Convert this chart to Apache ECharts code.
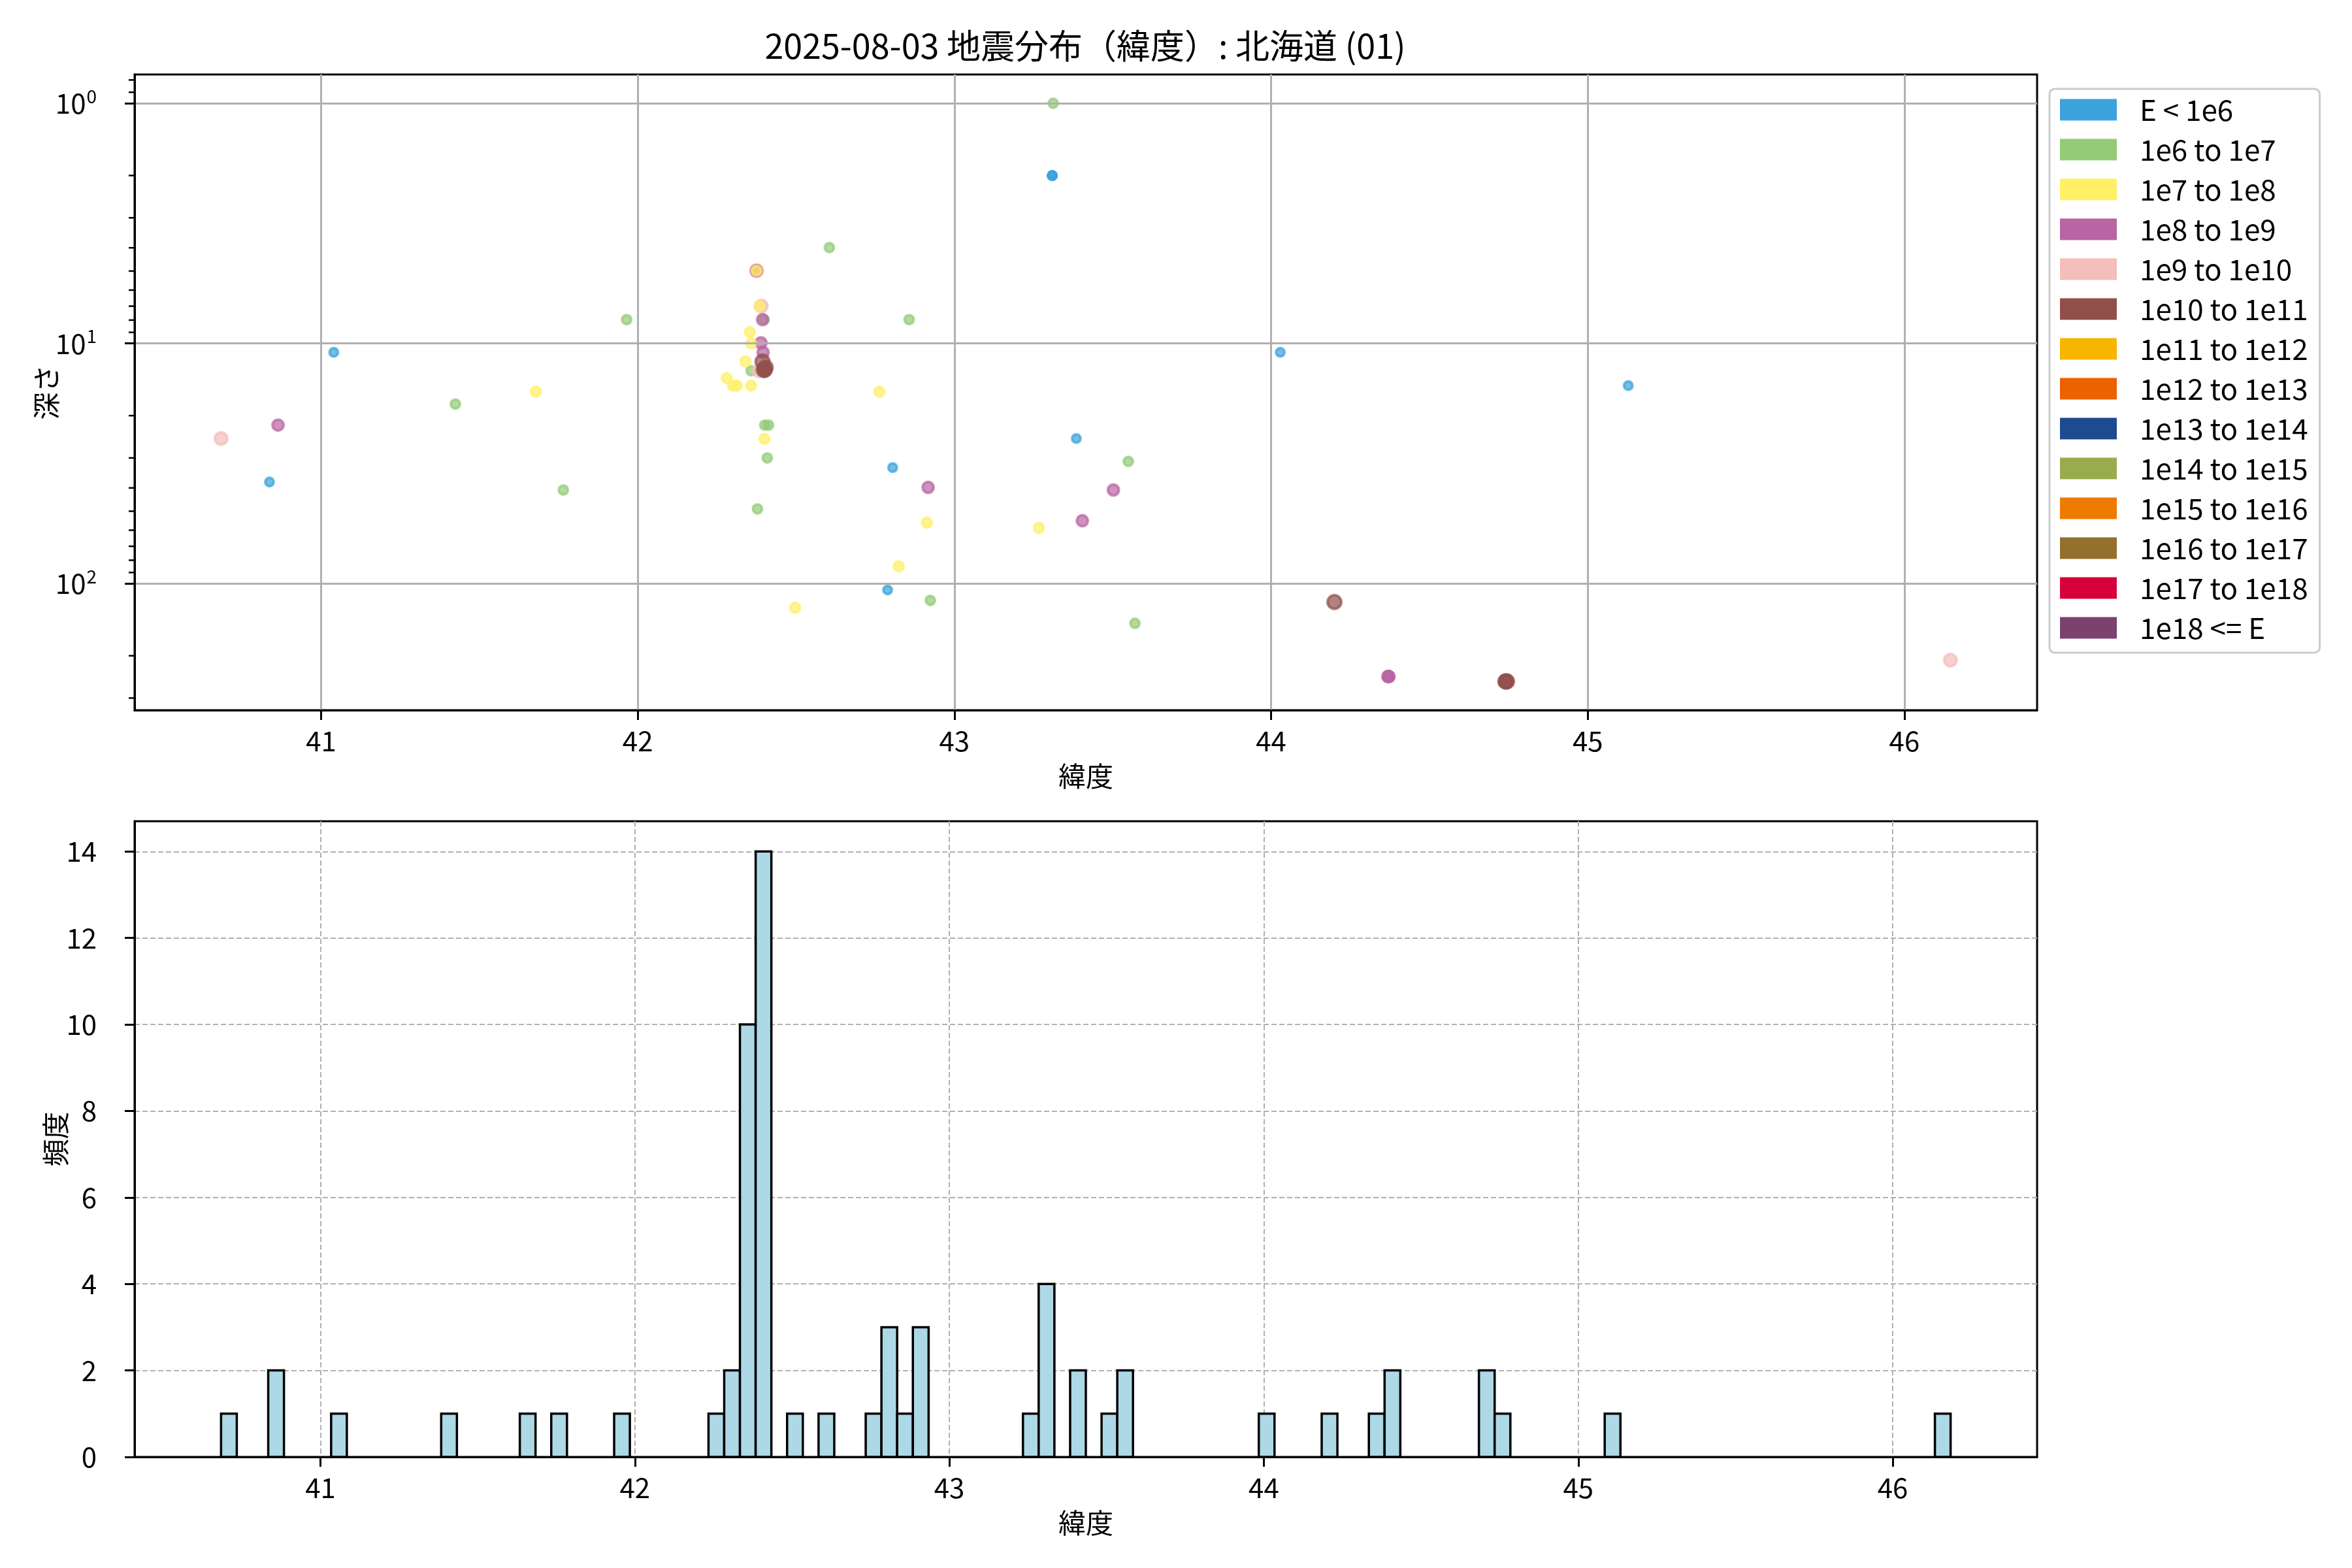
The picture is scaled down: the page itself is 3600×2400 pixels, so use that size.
<!DOCTYPE html>
<html>
<head>
<meta charset="utf-8">
<script src="https://cdn.jsdelivr.net/npm/echarts@6/dist/echarts.min.js"></script>
<style>html,body{margin:0;padding:0;background:#fff}#c{width:3600px;height:2400px}</style>
</head>
<body>
<div id="c"></div>
<script>
// ---------- DATA ----------
const titleText = '2025-08-03 地震分布（緯度）: 北海道 (01)';
const classNames = ['E < 1e6','1e6 to 1e7','1e7 to 1e8','1e8 to 1e9','1e9 to 1e10','1e10 to 1e11','1e11 to 1e12','1e12 to 1e13','1e13 to 1e14','1e14 to 1e15','1e15 to 1e16','1e16 to 1e17','1e17 to 1e18','1e18 <= E'];

// latitude / depth per energy class
const latE6 = [40.837, 41.040, 43.309, 43.309, 43.309, 44.029, 43.385, 42.805, 42.789, 45.128];
const depthE6 = [37.8, 10.9, 2.0, 2.0, 2.0, 10.9, 24.9, 32.9, 106.4, 15.0];
const latE7 = [41.424, 41.765, 41.965, 43.312, 42.605, 42.857, 43.549, 42.924, 43.570, 42.399, 42.358, 42.401, 42.413, 42.409, 42.378];
const depthE7 = [17.9, 40.8, 7.96, 1.0, 3.99, 7.96, 31.0, 117.6, 146.5, 7.97, 13.0, 21.9, 21.9, 30.0, 48.9];
const latE8 = [41.678, 42.763, 42.913, 43.267, 42.824, 42.497, 42.375, 42.384, 42.354, 42.358, 42.340, 42.281, 42.301, 42.313, 42.358, 42.400];
const depthE8 = [15.9, 15.9, 55.7, 58.7, 84.8, 126.1, 4.98, 6.99, 8.98, 10.0, 11.9, 13.95, 15.0, 15.0, 15.0, 25.0];
const latE9 = [40.864, 42.917, 43.502, 43.404, 44.369, 44.371, 44.372, 42.375, 42.394, 42.389, 42.396];
const depthE9 = [21.9, 39.8, 40.8, 54.8, 244, 244, 244, 4.98, 7.97, 9.95, 10.9];
const latE10 = [40.684, 46.145, 42.390, 42.383, 42.375];
const depthE10 = [24.9, 208.6, 6.99, 13.0, 4.98];
const latE11 = [44.200, 44.740, 44.742, 44.745, 42.394, 42.398, 42.401, 42.404];
const depthE11 = [119.5, 255.8, 255.8, 255.8, 11.9, 12.9, 12.9, 12.6];
const classLats = [latE6, latE7, latE8, latE9, latE10, latE11, [], [], [], [], [], [], [], []];
const classDepths = [depthE6, depthE7, depthE8, depthE9, depthE10, depthE11, [], [], [], [], [], [], [], []];

// histogram (non-empty bins)
const histBinWidth = 0.05;
const histBinLeft = [40.684, 40.834, 41.034, 41.384, 41.634, 41.734, 41.934, 42.234, 42.284, 42.334, 42.384, 42.484, 42.584, 42.734, 42.784, 42.834, 42.884, 43.234, 43.284, 43.384, 43.484, 43.534, 43.984, 44.184, 44.334, 44.384, 44.684, 44.734, 45.084, 46.134];
const histCount = [1, 2, 1, 1, 1, 1, 1, 1, 2, 10, 14, 1, 1, 1, 3, 1, 3, 1, 4, 2, 1, 2, 1, 1, 1, 2, 2, 1, 1, 1];

// ticks
const latTicks = [41, 42, 43, 44, 45, 46];
const depthTicks = [1, 10, 100];
const depthMinorTicks = [0.8, 0.9, 2, 3, 4, 5, 6, 7, 8, 9, 20, 30, 40, 50, 60, 70, 80, 90, 200, 300];
const countTicks = [0, 2, 4, 6, 8, 10, 12, 14];

// ---------- STYLE ----------
const classColors = ['#3ba3dc','#93cb77','#fff066','#b964a3','#f4beba','#924f4a','#f8b500','#ec6100','#1d4b92','#9aab4e','#ef7a00','#946f2d','#d7003a','#7b416f'];
const classSymbolSize = [13, 14, 15, 17, 19, 21, 22, 22, 22, 22, 22, 22, 22, 22];
const classZ = [6, 2, 5, 4, 3, 7, 8, 8, 8, 8, 8, 8, 8, 8];
const FONT = "'Noto Sans CJK JP', 'Noto Sans', sans-serif";
function rgba(hex, a) {
  const n = parseInt(hex.slice(1), 16);
  return 'rgba(' + ((n >> 16) & 255) + ',' + ((n >> 8) & 255) + ',' + (n & 255) + ',' + a + ')';
}
const X1 = [40.411, 46.419];
const Y1 = [0.759, 337];
const X2 = [40.409, 46.459];
const Y2 = [0, 14.7];

const GL = 206, GW = 2912, GH = 973;

const scatterSeries = classNames.map((name, i) => ({
  name: name,
  type: 'scatter',
  xAxisIndex: 0, yAxisIndex: 0,
  z: classZ[i],
  symbol: 'circle',
  symbolSize: classSymbolSize[i],
  itemStyle: { color: rgba(classColors[i], 0.7), borderColor: rgba(classColors[i], 0.7), borderWidth: 4, opacity: 1 },
  emphasis: { disabled: true },
  data: classLats[i].map((v, j) => [v, classDepths[i][j]])
}));

const tickLine = { color: '#000', width: 3 };
const labelStyle = { fontSize: 42, color: '#000', fontFamily: FONT };
const nameStyle = { fontSize: 42, color: '#000', fontFamily: FONT };

const option = {
  backgroundColor: '#fff',
  animation: false,
  title: {
    text: titleText, left: 1661, top: 44, textAlign: 'center', padding: 0,
    textStyle: { fontSize: 52, fontWeight: 'normal', color: '#000', fontFamily: FONT }
  },
  legend: {
    orient: 'vertical', left: 3137, top: 136,
    data: classNames.map((n, i) => ({ name: n, itemStyle: { color: classColors[i], borderWidth: 0, opacity: 1 } })),
    icon: 'rect', itemWidth: 87, itemHeight: 33, itemGap: 17,
    textStyle: { fontSize: 44, color: '#000', fontFamily: FONT, padding: [0, 0, 0, 30] },
    backgroundColor: '#fff', borderColor: '#cccccc', borderWidth: 3, borderRadius: 8,
    padding: [10, 18, 16, 16], selectedMode: false
  },
  grid: [
    { left: GL, top: 114, width: GW, height: GH, show: true, borderColor: '#000', borderWidth: 3, backgroundColor: 'transparent', containLabel: false },
    { left: GL, top: 1257, width: GW, height: GH, show: true, borderColor: '#000', borderWidth: 3, backgroundColor: 'transparent', containLabel: false }
  ],
  xAxis: [
    {
      type: 'value', gridIndex: 0, min: X1[0], max: X1[1], z: 10,
      axisLine: { show: true, onZero: false, lineStyle: tickLine },
      axisTick: { show: true, customValues: latTicks, length: 15, lineStyle: tickLine },
      axisLabel: { customValues: latTicks, margin: 26, ...labelStyle },
      splitLine: { show: true, lineStyle: { color: '#b0b0b0', width: 3 } },
      name: '緯度', nameLocation: 'middle', nameGap: 80, nameMoveOverlap: false, nameTextStyle: nameStyle
    },
    {
      type: 'value', gridIndex: 1, min: X2[0], max: X2[1],
      axisLine: { show: true, onZero: false, lineStyle: tickLine },
      axisTick: { show: true, customValues: latTicks, length: 15, lineStyle: tickLine },
      axisLabel: { customValues: latTicks, margin: 26, ...labelStyle },
      splitLine: { show: true, lineStyle: { color: '#b0b0b0', width: 2, type: [8, 4] } },
      name: '緯度', nameLocation: 'middle', nameGap: 80, nameMoveOverlap: false, nameTextStyle: nameStyle
    }
  ],
  yAxis: [
    {
      type: 'log', logBase: 10, gridIndex: 0, min: Y1[0], max: Y1[1], inverse: true, z: 10,
      axisLine: { show: true, onZero: false, lineStyle: tickLine },
      axisTick: { show: true, customValues: depthTicks, length: 15, lineStyle: tickLine },
      axisLabel: {
        customValues: depthTicks, margin: 58,
        formatter: v => '{b|10}{s|' + Math.round(Math.log10(v)) + '}',
        rich: {
          b: { fontSize: 42, color: '#000', fontFamily: FONT },
          s: { fontSize: 28, color: '#000', fontFamily: FONT, padding: [0, 0, 22, 1] }
        }
      },
      splitLine: { show: true, lineStyle: { color: '#b0b0b0', width: 3 } },
      name: '深さ', nameLocation: 'middle', nameGap: 114, nameMoveOverlap: false, nameTextStyle: nameStyle
    },
    {
      type: 'value', gridIndex: 1, min: Y2[0], max: Y2[1], interval: 2,
      axisLine: { show: true, onZero: false, lineStyle: tickLine },
      axisTick: { show: true, customValues: countTicks, length: 15, lineStyle: tickLine },
      axisLabel: { customValues: countTicks, margin: 58, ...labelStyle },
      splitLine: { show: true, lineStyle: { color: '#b0b0b0', width: 2, type: [8, 4] } },
      name: '頻度', nameLocation: 'middle', nameGap: 100, nameMoveOverlap: false, nameTextStyle: nameStyle
    }
  ],
  series: [
    ...scatterSeries,
    {
      name: '__minorTicks', type: 'custom', xAxisIndex: 0, yAxisIndex: 0, silent: true, z: 11, clip: false,
      data: depthMinorTicks.map(v => [X1[0], v]),
      encode: { x: 0, y: 1 },
      renderItem: (params, api) => {
        const p = api.coord([api.value(0), api.value(1)]);
        const x0 = params.coordSys.x;
        return { type: 'line', shape: { x1: x0 - 9, y1: p[1], x2: x0, y2: p[1] }, style: { stroke: '#000', lineWidth: 2.5 } };
      }
    },
    {
      name: '__hist', type: 'custom', xAxisIndex: 1, yAxisIndex: 1, z: 3,
      data: histBinLeft.map((l, i) => [l, l + histBinWidth, histCount[i]]),
      encode: { x: [0, 1], y: 2 },
      renderItem: (params, api) => {
        const p0 = api.coord([api.value(0), api.value(2)]);
        const p1 = api.coord([api.value(1), 0]);
        return {
          type: 'rect',
          shape: { x: p0[0], y: p0[1], width: p1[0] - p0[0], height: p1[1] - p0[1] },
          style: { fill: '#add8e6', stroke: '#000', lineWidth: 3.5 }
        };
      }
    }
  ]
};

const chart = echarts.init(document.getElementById('c'), null, { renderer: 'canvas', width: 3600, height: 2400 });
chart.setOption(option);
</script>
</body>
</html>
